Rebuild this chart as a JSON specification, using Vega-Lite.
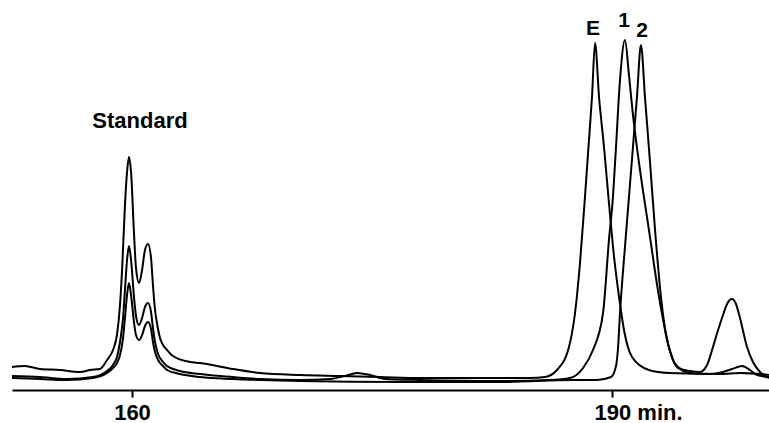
{
  "$schema": "https://vega.github.io/schema/vega-lite/v6.json",
  "width": 757,
  "height": 390,
  "autosize": {"type": "none"},
  "padding": {"left": 12, "top": 0, "right": 0, "bottom": 33},
  "background": "white",
  "config": {"view": {"stroke": null}, "font": "Liberation Sans"},
  "datasets": {
    "traces": [
      {"trace":"E","t":152.5,"h":23},{"trace":"E","t":153.31,"h":24},{"trace":"E","t":154.25,"h":21},{"trace":"E","t":155.5,"h":20},{"trace":"E","t":156.75,"h":18},{"trace":"E","t":157.38,"h":20},{"trace":"E","t":158.0,"h":21},{"trace":"E","t":158.44,"h":30},{"trace":"E","t":158.81,"h":40},{"trace":"E","t":159.06,"h":55},{"trace":"E","t":159.25,"h":85},{"trace":"E","t":159.38,"h":120},{"trace":"E","t":159.56,"h":185},{"trace":"E","t":159.69,"h":218},{"trace":"E","t":159.81,"h":233},{"trace":"E","t":159.94,"h":218},{"trace":"E","t":160.13,"h":155},{"trace":"E","t":160.25,"h":122},{"trace":"E","t":160.44,"h":107},{"trace":"E","t":160.63,"h":120},{"trace":"E","t":160.81,"h":140},{"trace":"E","t":161.0,"h":146},{"trace":"E","t":161.19,"h":132},{"trace":"E","t":161.31,"h":105},{"trace":"E","t":161.44,"h":80},{"trace":"E","t":161.56,"h":67},{"trace":"E","t":161.75,"h":52},{"trace":"E","t":161.94,"h":45},{"trace":"E","t":162.19,"h":40},{"trace":"E","t":162.56,"h":34},{"trace":"E","t":163.63,"h":28},{"trace":"E","t":164.25,"h":27},{"trace":"E","t":166.31,"h":21},{"trace":"E","t":168.0,"h":17},{"trace":"E","t":170.5,"h":15},{"trace":"E","t":173.0,"h":14},{"trace":"E","t":175.5,"h":13},{"trace":"E","t":178.0,"h":12},{"trace":"E","t":180.5,"h":12},{"trace":"E","t":183.0,"h":12},{"trace":"E","t":184.88,"h":12},{"trace":"E","t":185.81,"h":13},{"trace":"E","t":186.56,"h":20},{"trace":"E","t":187.31,"h":43},{"trace":"E","t":187.69,"h":77},{"trace":"E","t":188.0,"h":127},{"trace":"E","t":188.31,"h":193},{"trace":"E","t":188.53,"h":243},{"trace":"E","t":188.75,"h":293},{"trace":"E","t":188.94,"h":347},{"trace":"E","t":189.19,"h":293},{"trace":"E","t":189.5,"h":243},{"trace":"E","t":189.81,"h":187},{"trace":"E","t":190.13,"h":133},{"trace":"E","t":190.44,"h":93},{"trace":"E","t":190.75,"h":60},{"trace":"E","t":191.25,"h":33},{"trace":"E","t":192.31,"h":20},{"trace":"E","t":193.56,"h":17},{"trace":"E","t":196.75,"h":16},{"trace":"E","t":198.0,"h":17},{"trace":"E","t":199.81,"h":15},

      {"trace":"1","t":152.5,"h":14},{"trace":"1","t":154.25,"h":13},{"trace":"1","t":155.94,"h":11},{"trace":"1","t":157.56,"h":13},{"trace":"1","t":158.44,"h":19},{"trace":"1","t":158.81,"h":25},{"trace":"1","t":159.06,"h":33},{"trace":"1","t":159.25,"h":48},{"trace":"1","t":159.44,"h":72},{"trace":"1","t":159.56,"h":100},{"trace":"1","t":159.69,"h":130},{"trace":"1","t":159.81,"h":144},{"trace":"1","t":159.94,"h":130},{"trace":"1","t":160.13,"h":92},{"trace":"1","t":160.25,"h":74},{"trace":"1","t":160.44,"h":65},{"trace":"1","t":160.63,"h":72},{"trace":"1","t":160.81,"h":83},{"trace":"1","t":161.0,"h":87},{"trace":"1","t":161.19,"h":78},{"trace":"1","t":161.31,"h":62},{"trace":"1","t":161.44,"h":48},{"trace":"1","t":161.63,"h":36},{"trace":"1","t":161.94,"h":28},{"trace":"1","t":162.19,"h":24},{"trace":"1","t":163.0,"h":19},{"trace":"1","t":164.25,"h":16},{"trace":"1","t":166.31,"h":13},{"trace":"1","t":168.0,"h":11},{"trace":"1","t":170.5,"h":10},{"trace":"1","t":172.38,"h":11},{"trace":"1","t":173.31,"h":14},{"trace":"1","t":174.06,"h":17},{"trace":"1","t":174.88,"h":15},{"trace":"1","t":175.81,"h":11},{"trace":"1","t":178.0,"h":10},{"trace":"1","t":183.0,"h":9},{"trace":"1","t":186.13,"h":10},{"trace":"1","t":187.38,"h":12},{"trace":"1","t":188.19,"h":22},{"trace":"1","t":188.81,"h":40},{"trace":"1","t":189.44,"h":77},{"trace":"1","t":189.81,"h":150},{"trace":"1","t":190.06,"h":193},{"trace":"1","t":190.25,"h":243},{"trace":"1","t":190.5,"h":310},{"trace":"1","t":190.81,"h":350},{"trace":"1","t":191.06,"h":315},{"trace":"1","t":191.31,"h":275},{"trace":"1","t":191.69,"h":227},{"trace":"1","t":192.31,"h":160},{"trace":"1","t":192.94,"h":93},{"trace":"1","t":193.56,"h":43},{"trace":"1","t":194.0,"h":25},{"trace":"1","t":194.88,"h":17},{"trace":"1","t":196.13,"h":16},{"trace":"1","t":196.94,"h":18},{"trace":"1","t":197.5,"h":21},{"trace":"1","t":198.13,"h":24},{"trace":"1","t":198.63,"h":20},{"trace":"1","t":199.06,"h":15},{"trace":"1","t":199.81,"h":13},

      {"trace":"2","t":152.5,"h":12},{"trace":"2","t":154.25,"h":11},{"trace":"2","t":155.94,"h":10},{"trace":"2","t":157.56,"h":12},{"trace":"2","t":158.44,"h":17},{"trace":"2","t":158.81,"h":22},{"trace":"2","t":159.06,"h":27},{"trace":"2","t":159.25,"h":35},{"trace":"2","t":159.44,"h":52},{"trace":"2","t":159.56,"h":72},{"trace":"2","t":159.69,"h":95},{"trace":"2","t":159.81,"h":107},{"trace":"2","t":159.94,"h":95},{"trace":"2","t":160.13,"h":67},{"trace":"2","t":160.25,"h":55},{"trace":"2","t":160.44,"h":50},{"trace":"2","t":160.63,"h":55},{"trace":"2","t":160.81,"h":64},{"trace":"2","t":161.0,"h":68},{"trace":"2","t":161.19,"h":61},{"trace":"2","t":161.31,"h":48},{"trace":"2","t":161.44,"h":38},{"trace":"2","t":161.63,"h":30},{"trace":"2","t":161.94,"h":24},{"trace":"2","t":162.19,"h":20},{"trace":"2","t":163.0,"h":16},{"trace":"2","t":164.25,"h":13},{"trace":"2","t":166.31,"h":11},{"trace":"2","t":168.0,"h":10},{"trace":"2","t":170.5,"h":9},{"trace":"2","t":176.75,"h":8},{"trace":"2","t":183.0,"h":8},{"trace":"2","t":187.56,"h":10},{"trace":"2","t":189.06,"h":10},{"trace":"2","t":189.94,"h":13},{"trace":"2","t":190.25,"h":24},{"trace":"2","t":190.38,"h":43},{"trace":"2","t":190.5,"h":77},{"trace":"2","t":190.81,"h":143},{"trace":"2","t":191.06,"h":193},{"trace":"2","t":191.31,"h":243},{"trace":"2","t":191.56,"h":293},{"trace":"2","t":191.81,"h":345},{"trace":"2","t":192.06,"h":293},{"trace":"2","t":192.38,"h":227},{"trace":"2","t":192.69,"h":160},{"trace":"2","t":193.06,"h":93},{"trace":"2","t":193.38,"h":55},{"trace":"2","t":193.69,"h":35},{"trace":"2","t":194.13,"h":22},{"trace":"2","t":194.88,"h":19},{"trace":"2","t":195.5,"h":18},{"trace":"2","t":195.94,"h":25},{"trace":"2","t":196.31,"h":43},{"trace":"2","t":196.63,"h":60},{"trace":"2","t":196.94,"h":75},{"trace":"2","t":197.19,"h":86},{"trace":"2","t":197.5,"h":91},{"trace":"2","t":197.75,"h":86},{"trace":"2","t":198.0,"h":72},{"trace":"2","t":198.44,"h":43},{"trace":"2","t":198.81,"h":28},{"trace":"2","t":199.25,"h":18},{"trace":"2","t":199.81,"h":12}
    ],
    "labels": [
      {"t":160.5,"h":262,"text":"Standard","kind":"title"},
      {"t":188.81,"h":355,"text":"E","kind":"peak"},
      {"t":190.75,"h":363,"text":"1","kind":"peak"},
      {"t":191.88,"h":353,"text":"2","kind":"peak"}
    ]
  },
  "layer": [
    {
      "data": {"name": "traces"},
      "mark": {"type": "line", "color": "black", "strokeWidth": 2, "interpolate": "monotone"},
      "encoding": {
        "x": {
          "field": "t", "type": "quantitative",
          "scale": {"domain": [152.5, 199.8125], "nice": false, "zero": false},
          "axis": {
            "values": [160, 190], "title": null, "grid": false,
            "domainColor": "black", "domainWidth": 2,
            "tickColor": "black", "tickWidth": 2, "tickSize": 7,
            "labelFont": "Liberation Sans", "labelFontSize": 22, "labelFontWeight": "bold",
            "labelColor": "black", "labelPadding": 5, "labelFlush": false, "labelOverlap": false,
            "labelExpr": "datum.value == 190 ? '190 min.' : datum.label",
            "labelAlign": {"condition": {"test": "datum.value == 190", "value": "left"}, "value": "center"},
            "labelOffset": {"condition": {"test": "datum.value == 190", "value": -18}, "value": 0}
          }
        },
        "y": {"field": "h", "type": "quantitative", "scale": {"domain": [0, 390], "nice": false}, "axis": null},
        "detail": {"field": "trace"},
        "order": {"field": "t"}
      }
    },
    {
      "data": {"name": "labels"},
      "transform": [{"filter": "datum.kind == 'title'"}],
      "mark": {"type": "text", "font": "Liberation Sans", "fontWeight": "bold", "fontSize": 22, "baseline": "alphabetic", "align": "center", "color": "black"},
      "encoding": {
        "x": {"field": "t", "type": "quantitative"},
        "y": {"field": "h", "type": "quantitative"},
        "text": {"field": "text"}
      }
    },
    {
      "data": {"name": "labels"},
      "transform": [{"filter": "datum.kind == 'peak'"}],
      "mark": {"type": "text", "font": "Liberation Sans", "fontWeight": "bold", "fontSize": 21, "baseline": "alphabetic", "align": "center", "color": "black"},
      "encoding": {
        "x": {"field": "t", "type": "quantitative"},
        "y": {"field": "h", "type": "quantitative"},
        "text": {"field": "text"}
      }
    }
  ]
}
